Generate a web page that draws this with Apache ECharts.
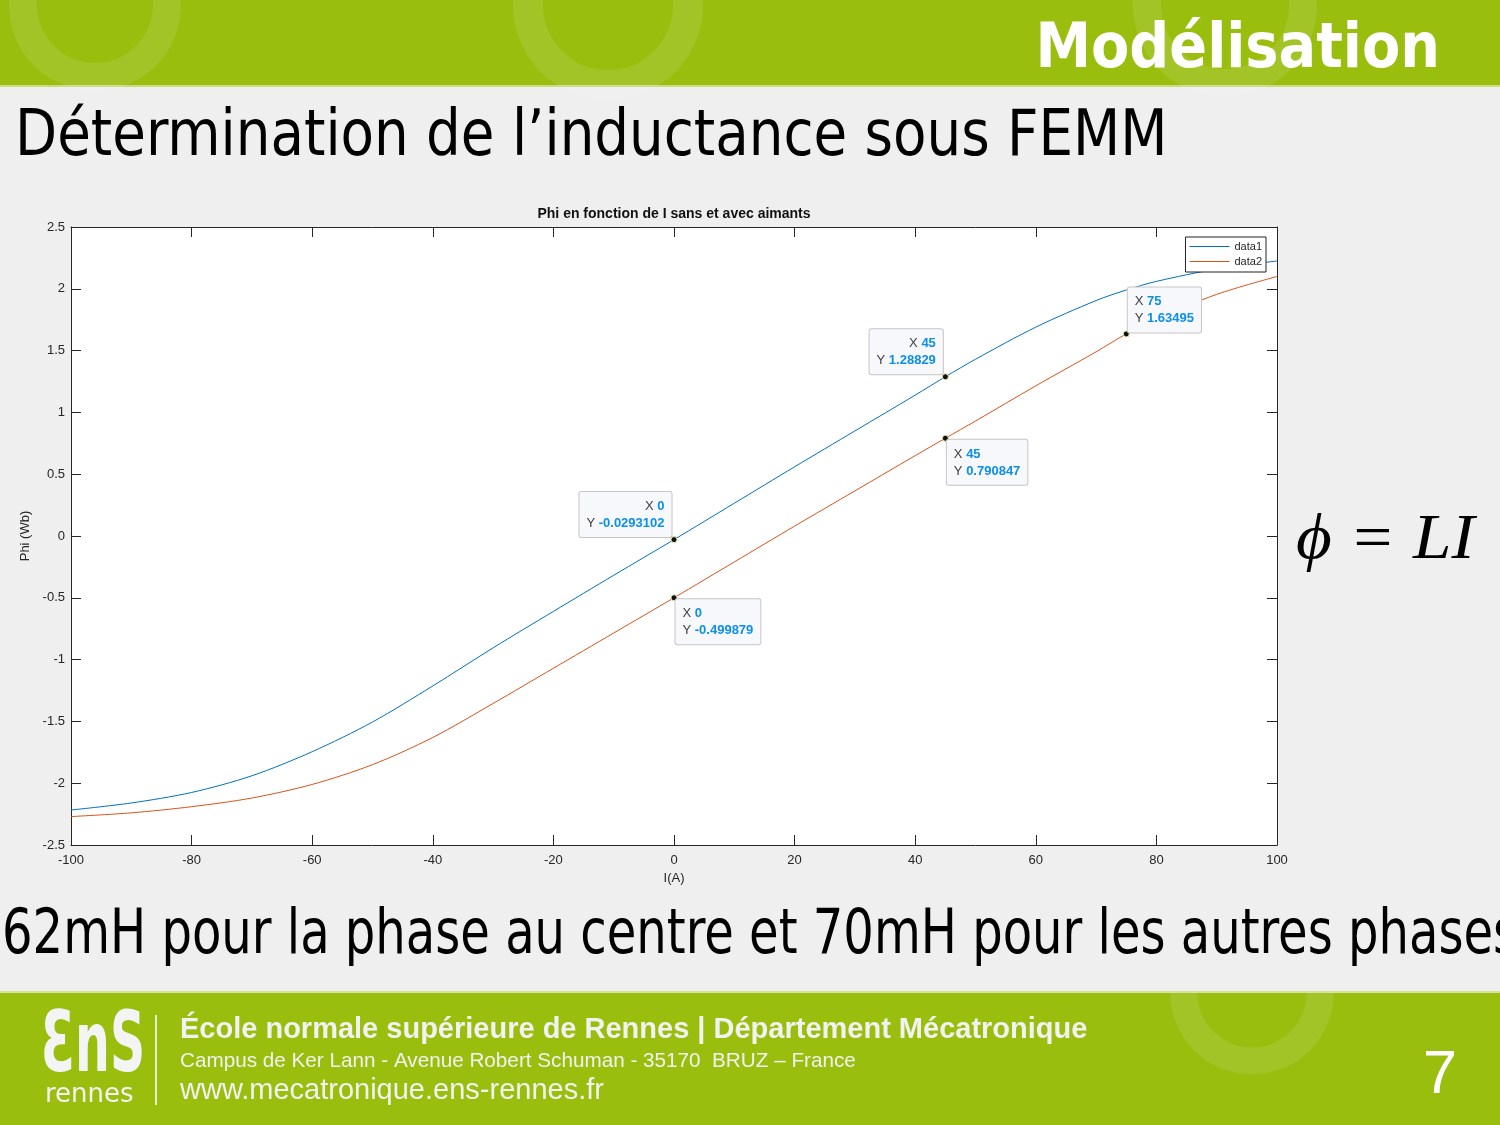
<!DOCTYPE html>
<html lang="fr">
  <head>
    <meta charset="UTF-8">
    <title>Modélisation</title>
    <script src="https://cdn.jsdelivr.net/npm/echarts@6.0.0/dist/echarts.min.js"></script>
    <style>
      html, body { margin: 0; padding: 0; background: #efefef; }
    </style>
  </head>
  <body>
    <div id="main" style="width: 1500px;height:1125px;"></div>
    <script type="text/javascript">
      // Current I (A) and flux Phi (Wb)
      const current = [-100, -90, -80, -70, -60, -50, -40, -30, -20, -10, 0, 10, 20, 30, 40, 45, 50, 60, 70, 75, 80, 90, 100];
      const phiData1 = [-2.217, -2.16, -2.075, -1.94, -1.745, -1.505, -1.213, -0.905, -0.61, -0.318, -0.0293102, 0.265, 0.56, 0.85, 1.14, 1.28829, 1.43, 1.69, 1.905, 1.99, 2.06, 2.16, 2.225];
      const phiData2 = [-2.27, -2.24, -2.19, -2.12, -2.01, -1.85, -1.63, -1.355, -1.07, -0.785, -0.499879, -0.21, 0.08, 0.365, 0.65, 0.790847, 0.93, 1.215, 1.49, 1.63495, 1.755, 1.955, 2.10];

      // data tips shown on the plot
      const tipX1 = [0, 45];
      const tipY1 = ['-0.0293102', '1.28829'];
      const tipX2 = [0, 45, 75];
      const tipY2 = ['-0.499879', '0.790847', '1.63495'];

      const xTicks = [-100, 100, 20];
      const yTicks = [-2.5, 2.5, 0.5];

      const axisColor = '#262626';
      const green = '#99be0e';
      const ring = 'rgba(255,255,255,0.10)';
      const blue = '#0072bd';
      const red = '#d95319';
      const slideFont = '"DejaVu Sans Condensed", "DejaVu Sans"';

      let myChart = echarts.init(document.getElementById('main'));

      function tipLabel(x, y, side) {
        // blue tips sit above-left of the point, red ones below/above-right
        let pos = [1, 1], align = 'right', vAlign = 'bottom';
        if (side === 'br') { pos = [5, 5]; align = 'left'; vAlign = 'top'; }
        if (side === 'tr') { pos = [5, 2]; align = 'left'; vAlign = 'bottom'; }
        return {
          show: true,
          position: pos,
          align: align,
          verticalAlign: vAlign,
          formatter: '{k|X} {v|' + x + '}\n{k|Y} {v|' + y + '}',
          backgroundColor: '#f7f8fc',
          borderColor: '#c6c6c6',
          borderWidth: 1,
          borderRadius: 2,
          padding: [6, 7, 5, 7],
          fontFamily: 'Liberation Sans',
          fontSize: 13,
          lineHeight: 17,
          rich: {
            k: { color: '#404040', fontSize: 13, fontFamily: 'Liberation Sans', lineHeight: 17 },
            v: { color: '#0d8fe8', fontSize: 13, fontWeight: 'bold', fontFamily: 'Liberation Sans', lineHeight: 17 }
          }
        };
      }

      const tipStyle = { color: '#111', borderColor: '#e6e6a8', borderWidth: 1 };

      const marks1 = tipX1.map((x, i) => ({
        coord: [x, parseFloat(tipY1[i])], label: tipLabel(x, tipY1[i], 'tl')
      }));
      const marks2 = tipX2.map((x, i) => ({
        coord: [x, parseFloat(tipY2[i])], label: tipLabel(x, tipY2[i], i === 2 ? 'tr' : 'br')
      }));

      const axisLabel = { color: axisColor, fontSize: 13, fontFamily: 'Liberation Sans' };
      const tick = { show: true, inside: true, length: 10, lineStyle: { color: axisColor } };
      const line = { show: true, onZero: false, lineStyle: { color: axisColor, width: 1 } };

      let options = {
        animation: false,
        backgroundColor: '#efefef',
        grid: { left: 71, top: 227, right: 223, bottom: 280, show: true, backgroundColor: '#fff', borderWidth: 0 },
        legend: {
          top: 237, right: 234, orient: 'vertical',
          icon: 'rect', itemWidth: 40, itemHeight: 1, itemGap: 4,
          padding: [4, 4, 5, 4],
          backgroundColor: '#fff', borderColor: '#222', borderWidth: 1,
          textStyle: { color: axisColor, fontSize: 11, fontFamily: 'Liberation Sans' },
          data: [
            { name: 'data1', itemStyle: { color: blue, borderWidth: 0 } },
            { name: 'data2', itemStyle: { color: red, borderWidth: 0 } }
          ]
        },
        xAxis: [{
          type: 'value', min: xTicks[0], max: xTicks[1], interval: xTicks[2],
          name: 'I(A)', nameLocation: 'middle', nameGap: 27,
          nameTextStyle: { color: axisColor, fontSize: 13, fontFamily: 'Liberation Sans' },
          axisLine: line, axisTick: tick, axisLabel: Object.assign({ margin: 9 }, axisLabel),
          splitLine: { show: false }
        }, {
          type: 'value', position: 'top', min: xTicks[0], max: xTicks[1], interval: xTicks[2],
          axisLine: line, axisTick: tick, axisLabel: { show: false }, splitLine: { show: false }
        }],
        yAxis: [{
          type: 'value', min: yTicks[0], max: yTicks[1], interval: yTicks[2],
          name: 'Phi (Wb)', nameLocation: 'middle', nameGap: 37,
          nameTextStyle: { color: axisColor, fontSize: 13, fontFamily: 'Liberation Sans' },
          axisLine: line, axisTick: tick, axisLabel: Object.assign({ margin: 6 }, axisLabel),
          splitLine: { show: false }
        }, {
          type: 'value', position: 'right', min: yTicks[0], max: yTicks[1], interval: yTicks[2],
          axisLine: line, axisTick: tick, axisLabel: { show: false }, splitLine: { show: false }
        }],
        series: [{
          name: 'data1', type: 'line', showSymbol: false, smooth: 0.3,
          lineStyle: { color: blue, width: 1 }, itemStyle: { color: blue },
          data: current.map((x, i) => [x, phiData1[i]]),
          markPoint: { symbol: 'circle', symbolSize: 6, itemStyle: tipStyle, data: marks1 }
        }, {
          name: 'data2', type: 'line', showSymbol: false, smooth: 0.3,
          lineStyle: { color: red, width: 1 }, itemStyle: { color: red },
          data: current.map((x, i) => [x, phiData2[i]]),
          markPoint: { symbol: 'circle', symbolSize: 6, itemStyle: tipStyle, data: marks2 }
        }],
        graphic: [
          // header band
          { type: 'rect', shape: { x: 0, y: 0, width: 1500, height: 85 }, style: { fill: green }, z: -10 },
          { type: 'rect', shape: { x: 0, y: 85, width: 1500, height: 2 }, style: { fill: '#c9dd80' }, z: -10 },
          { type: 'circle', shape: { cx: 95, cy: 5, r: 72 }, style: { fill: 'none', stroke: ring, lineWidth: 28 }, z: -9 },
          { type: 'circle', shape: { cx: 608, cy: 5, r: 80 }, style: { fill: 'none', stroke: ring, lineWidth: 30 }, z: -9 },
          { type: 'circle', shape: { cx: 1225, cy: 5, r: 78 }, style: { fill: 'none', stroke: ring, lineWidth: 28 }, z: -9 },
          { type: 'text', x: 1440, y: 20, style: { text: 'Modélisation', fill: '#fff', align: 'right', verticalAlign: 'top', font: 'bold 62px ' + slideFont } },
          // slide heading
          { type: 'text', x: 15, y: 106, scaleX: 0.95, style: { text: 'Détermination de l’inductance sous FEMM', fill: '#000', verticalAlign: 'top', font: '64px ' + slideFont } },
          // chart title
          { type: 'text', x: 674, y: 214, style: { text: 'Phi en fonction de I sans et avec aimants', fill: '#111', align: 'center', verticalAlign: 'middle', font: 'bold 14px "Liberation Sans"' } },
          // formula
          { type: 'text', x: 1296, y: 509, scaleX: 1.08, style: { text: 'ϕ = LI', fill: '#000', verticalAlign: 'top', font: 'italic 64px "Liberation Serif", "DejaVu Serif"' } },
          // conclusion
          { type: 'text', x: 2, y: 905, scaleX: 0.848, style: { text: '62mH pour la phase au centre et 70mH pour les autres phases', fill: '#000', verticalAlign: 'top', font: '63px ' + slideFont } },
          // footer band
          { type: 'rect', shape: { x: 0, y: 993, width: 1500, height: 132 }, style: { fill: green }, z: -10 },
          { type: 'rect', shape: { x: 0, y: 991, width: 1500, height: 2 }, style: { fill: '#d6e4a0' }, z: -10 },
          { type: 'arc', shape: { cx: 1252, cy: 993, r: 68, startAngle: 0, endAngle: Math.PI }, style: { fill: 'none', stroke: ring, lineWidth: 27 }, z: -9 },
          { type: 'text', x: 41, y: 1008, scaleX: 0.68, scaleY: 1.15, style: { text: 'ƐnS', fill: '#f4f4f4', verticalAlign: 'top', font: 'bold 72px "DejaVu Sans"' } },
          { type: 'text', x: 45, y: 1082, style: { text: 'rennes', fill: '#f4f4f4', verticalAlign: 'top', font: '26px "DejaVu Sans"' } },
          { type: 'rect', shape: { x: 155, y: 1015, width: 2, height: 90 }, style: { fill: '#e8efcc' } },
          { type: 'text', x: 180, y: 1030, style: { text: 'École normale supérieure de Rennes | Département Mécatronique', fill: '#f2f2f2', verticalAlign: 'middle', font: 'bold 29px "Liberation Sans"' } },
          { type: 'text', x: 180, y: 1061, style: { text: 'Campus de Ker Lann - Avenue Robert Schuman - 35170  BRUZ – France', fill: '#f2f2f2', verticalAlign: 'middle', font: '20.7px "Liberation Sans"' } },
          { type: 'text', x: 180, y: 1091, style: { text: 'www.mecatronique.ens-rennes.fr', fill: '#f2f2f2', verticalAlign: 'middle', font: '29px "Liberation Sans"' } },
          { type: 'text', x: 1423, y: 1046, style: { text: '7', fill: '#fff', verticalAlign: 'top', font: '61px "Liberation Sans"' } }
        ]
      };

      myChart.setOption(options);
    </script>
  </body>
</html>
